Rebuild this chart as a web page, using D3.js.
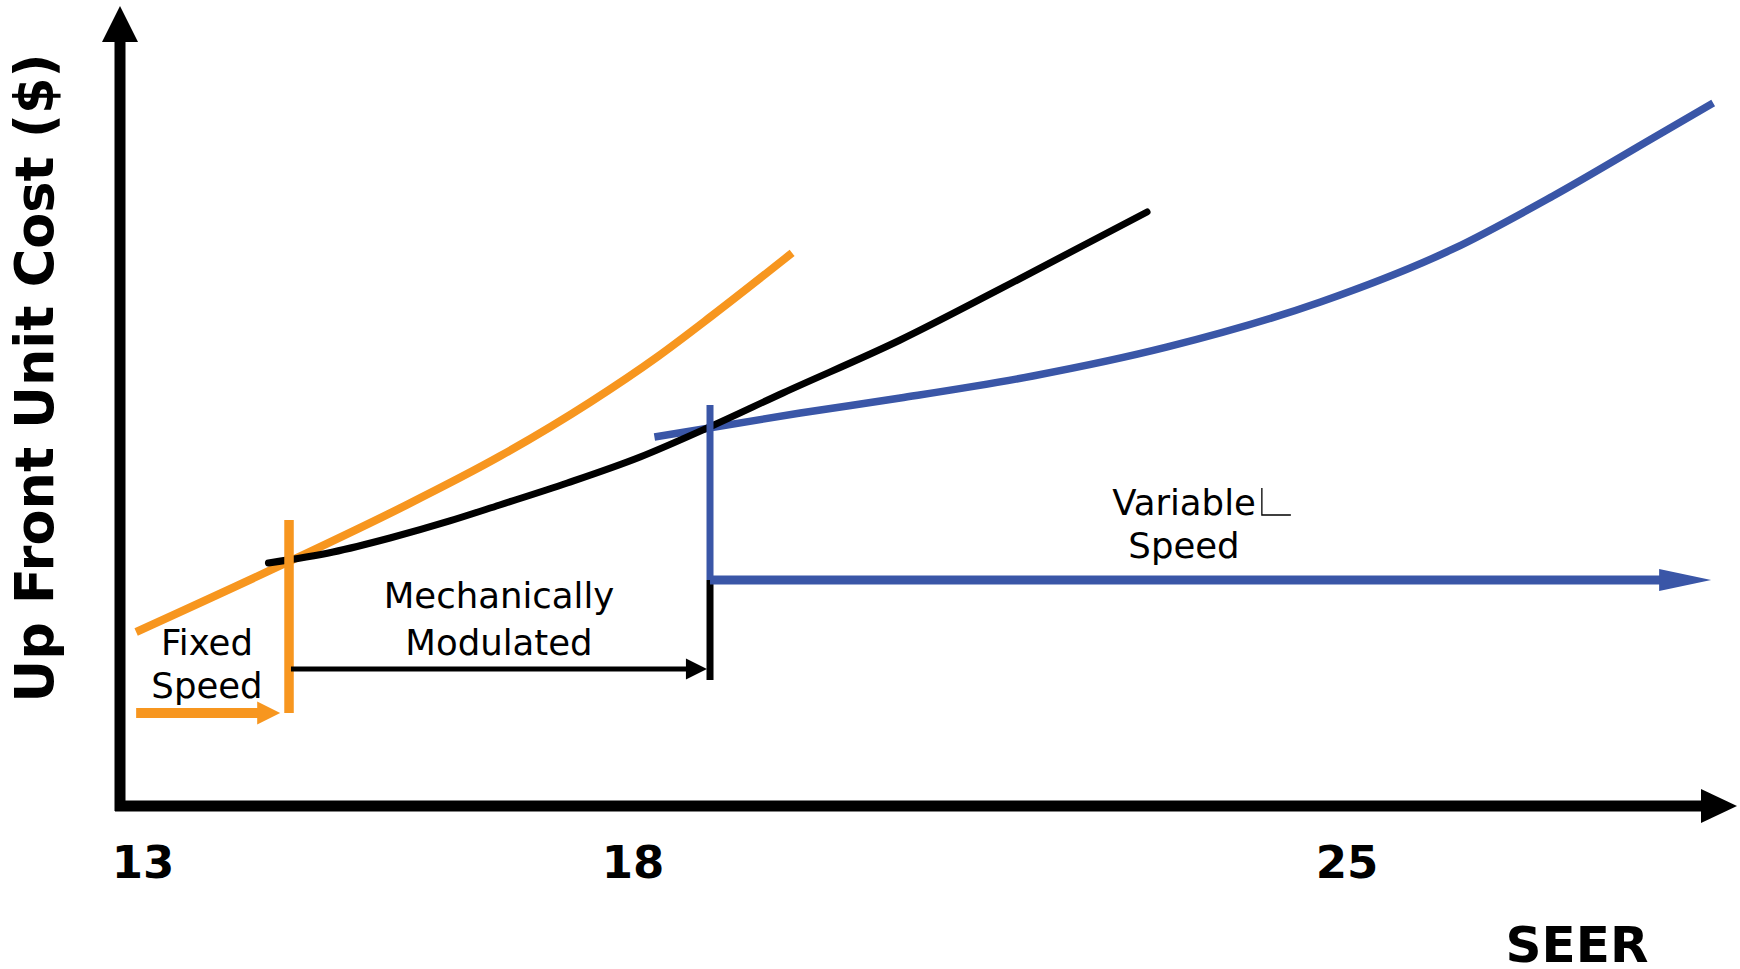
<!DOCTYPE html>
<html>
<head>
<meta charset="utf-8">
<script src="https://cdn.jsdelivr.net/npm/d3@7"></script>
<style>
  html, body { margin: 0; padding: 0; background: #fff; }
  svg { display: block; }
</style>
</head>
<body>
<div id="chart"></div>
<script>
// SEER tick marks on the horizontal axis
const seerTicks = [13, 18, 25];
const seerTickLabels = ["13", "18", "25"];

// Fixed speed cost curve (SEER, relative cost)
const fixedSpeedSeer = [12.93, 14.47, 15.62, 16.64, 17.56, 18.24, 18.78, 19.56];
const fixedSpeedCost = [21.75, 30.44, 37.21, 43.71, 50.46, 56.16, 61.34, 69.13];

// Mechanically modulated cost curve
const mechModSeer = [14.28, 14.94, 15.52, 16.13, 16.64, 17.33, 18.07, 18.75, 19.47, 20.62, 21.6, 23.04];
const mechModCost = [30.38, 31.75, 33.5, 35.63, 37.63, 40.38, 43.63, 47.38, 51.63, 58.25, 64.63, 74.25];

// Variable speed cost curve
const variableSeer = [18.21, 19.64, 20.62, 21.92, 23.24, 24.74, 26.04, 27.02, 28.0, 28.59];
const variableCost = [46.13, 49.13, 51.0, 53.75, 57.38, 63.0, 69.63, 76.25, 83.5, 87.88];

// Technology bands: range arrows along the bottom
const bandNames = ["fixed", "mechanical", "variable"];
const bandStartSeer = [12.93, 14.51, 18.755];
const bandEndSeer = [14.40, 18.725, 28.57];
const bandArrowCost = [11.63, 17.13, 28.25];

// Band dividers (vertical bars)
const dividerSeer = [14.49, 18.755, 18.755];
const dividerTopCost = [35.75, 50.13, 28.25];
const dividerBottomCost = [11.63, 28.25, 15.75];

const ORANGE = "#F7961F";
const BLUE = "#3A56A7";
const BLACK = "#000000";

const W = 1740, H = 969;
const svg = d3.select("#chart").append("svg")
  .attr("width", W).attr("height", H)
  .attr("viewBox", `0 0 ${W} ${H}`);

const x = d3.scaleLinear().domain([13, 18, 25]).range([143, 633, 1347]);
const y = d3.scaleLinear().domain([0, 100]).range([806, 6]);

// ---- Axes with arrowheads ----
const axisX0 = 120, axisY0 = 806;
svg.append("line")
  .attr("x1", axisX0).attr("y1", 811).attr("x2", axisX0).attr("y2", 40)
  .attr("stroke", BLACK).attr("stroke-width", 11);
svg.append("path")
  .attr("d", `M${axisX0},6 L${axisX0 - 18},42 L${axisX0 + 18},42 Z`)
  .attr("fill", BLACK);

svg.append("line")
  .attr("x1", 115).attr("y1", axisY0).attr("x2", 1703).attr("y2", axisY0)
  .attr("stroke", BLACK).attr("stroke-width", 11);
svg.append("path")
  .attr("d", `M1737,${axisY0} L1701,${axisY0 - 17} L1701,${axisY0 + 17} Z`)
  .attr("fill", BLACK);

// Tick labels
svg.append("g").selectAll("text")
  .data(seerTicks)
  .join("text")
  .attr("x", d => x(d))
  .attr("y", 878)
  .attr("text-anchor", "middle")
  .attr("font-family", "DejaVu Sans")
  .attr("font-weight", "bold")
  .attr("font-size", 45)
  .text((d, i) => seerTickLabels[i]);

// Axis titles
svg.append("text")
  .attr("x", 1577).attr("y", 962)
  .attr("text-anchor", "middle")
  .attr("font-family", "DejaVu Sans")
  .attr("font-weight", "bold")
  .attr("font-size", 50)
  .text("SEER");

svg.append("text")
  .attr("transform", "translate(53,378) rotate(-90)")
  .attr("text-anchor", "middle")
  .attr("font-family", "DejaVu Sans")
  .attr("font-weight", "bold")
  .attr("font-size", 52.5)
  .text("Up Front Unit Cost ($)");

// ---- Cost curves ----
const line = d3.line()
  .x(d => x(d[0]))
  .y(d => y(d[1]))
  .curve(d3.curveMonotoneX);

const zip = (a, b) => a.map((v, i) => [v, b[i]]);

svg.append("path")
  .datum(zip(fixedSpeedSeer, fixedSpeedCost))
  .attr("d", line)
  .attr("fill", "none")
  .attr("stroke", ORANGE)
  .attr("stroke-width", 8);

svg.append("path")
  .datum(zip(variableSeer, variableCost))
  .attr("d", line)
  .attr("fill", "none")
  .attr("stroke", BLUE)
  .attr("stroke-width", 7.5);

svg.append("path")
  .datum(zip(mechModSeer, mechModCost))
  .attr("d", line)
  .attr("fill", "none")
  .attr("stroke", BLACK)
  .attr("stroke-width", 7)
  .attr("stroke-linecap", "round");

// ---- Band dividers ----
const dividerColors = [ORANGE, BLUE, BLACK];
const dividerWidths = [9.5, 7, 7];
svg.append("g").selectAll("line")
  .data(dividerSeer)
  .join("line")
  .attr("x1", d => x(d)).attr("x2", d => x(d))
  .attr("y1", (d, i) => y(dividerTopCost[i]))
  .attr("y2", (d, i) => y(dividerBottomCost[i]))
  .attr("stroke", (d, i) => dividerColors[i])
  .attr("stroke-width", (d, i) => dividerWidths[i]);

// ---- Band range arrows ----
const arrowColors = [ORANGE, BLACK, BLUE];
const arrowWidths = [10, 5, 9];
const headLen = [23, 21, 52];
const headHalf = [11.5, 10.5, 11];
bandNames.forEach((name, i) => {
  const x0 = x(bandStartSeer[i]);
  const x1 = x(bandEndSeer[i]);
  const yy = y(bandArrowCost[i]);
  const g = svg.append("g").attr("class", "band-" + name);
  g.append("line")
    .attr("x1", x0).attr("y1", yy)
    .attr("x2", x1 - headLen[i] + 1).attr("y2", yy)
    .attr("stroke", arrowColors[i])
    .attr("stroke-width", arrowWidths[i]);
  g.append("path")
    .attr("d", `M${x1},${yy} L${x1 - headLen[i]},${yy - headHalf[i]} L${x1 - headLen[i]},${yy + headHalf[i]} Z`)
    .attr("fill", arrowColors[i]);
});

// ---- Band labels ----
const labelFont = { family: "DejaVu Sans", size: 35.5 };
function label(lines, cx, baselines) {
  lines.forEach((t, i) => {
    svg.append("text")
      .attr("x", cx).attr("y", baselines[i])
      .attr("text-anchor", "middle")
      .attr("font-family", labelFont.family)
      .attr("font-size", labelFont.size)
      .attr("fill", BLACK)
      .text(t);
  });
}
label(["Fixed", "Speed"], 207, [655, 698]);
label(["Mechanically", "Modulated"], 499, [608, 655]);

const varText = svg.append("text")
  .attr("x", 1184).attr("y", 515)
  .attr("text-anchor", "middle")
  .attr("font-family", labelFont.family)
  .attr("font-size", labelFont.size)
  .text("Variable");
svg.append("text")
  .attr("x", 1184).attr("y", 558)
  .attr("text-anchor", "middle")
  .attr("font-family", labelFont.family)
  .attr("font-size", labelFont.size)
  .text("Speed");

// trailing placeholder mark after "Variable"
const vEnd = 1184 + varText.node().getComputedTextLength() / 2;
svg.append("path")
  .attr("d", `M${vEnd + 6},488 L${vEnd + 6},515 L${vEnd + 35},515`)
  .attr("fill", "none")
  .attr("stroke", BLACK)
  .attr("stroke-width", 1.3);
</script>
</body>
</html>
